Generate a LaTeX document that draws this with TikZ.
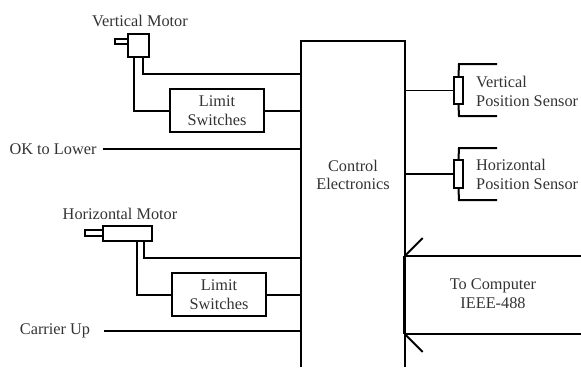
\documentclass[tikz,border=0pt]{standalone}
\usepackage{fontspec}
\setmainfont{Liberation Serif}
\begin{document}
\begin{tikzpicture}[x=1pt,y=-1pt,
  wire/.style={line width=2pt},
  thin wire/.style={line width=1.4pt},
  box/.style={draw,line width=2pt,rectangle,inner sep=0pt,align=center,font=\fontsize{16.3}{18.5}\selectfont,text=black!80},
  lbl/.style={inner sep=0pt,font=\fontsize{16.3}{18.5}\selectfont,text=black!80},
  bus/.style={line width=3pt}]
\useasboundingbox (0,0) rectangle (581,367);
% control electronics
\node[minimum width=103pt,minimum height=326pt,inner sep=0pt] (ctrl) at (353,204) {};
\draw[wire] (ctrl.south west) -- (ctrl.north west) -- (ctrl.north east) -- (ctrl.south east);
\node[lbl,align=center] (ctrltxt) at (353,175) {Control\\Electronics};
% vertical motor
\node[box,minimum width=21pt,minimum height=23pt] (vmotor) at (138.5,45.5) {};
\node[box,minimum width=13pt,minimum height=5pt,line width=1.5pt] (vshaft) at (121.5,41.5) {};
\node[lbl] (vmlbl) at (140,21) {Vertical Motor};
\node[box,minimum width=94pt,minimum height=43pt] (lim1) at (217,110.5) {Limit\\Switches};
\draw[wire] ([xshift=4.5pt]vmotor.south) |- (ctrl.west |- 0,74);
\draw[wire] ([xshift=-4.5pt]vmotor.south) |- (lim1.west);
\draw[wire] (lim1.east) -- (ctrl.west |- lim1.east);
% OK to lower
\node[lbl] (ok) at (53,149) {OK to Lower};
\draw[wire] ([xshift=6pt]ok.east) -- (ctrl.west |- ok.east);
% horizontal motor
\node[box,minimum width=49pt,minimum height=15pt] (hmotor) at (127.5,233.5) {};
\node[box,minimum width=18pt,minimum height=6pt,line width=1.5pt] (hshaft) at (94,233) {};
\node[lbl] (hmlbl) at (120,214) {Horizontal Motor};
\node[box,minimum width=94pt,minimum height=43pt] (lim2) at (219,294.5) {Limit\\Switches};
\draw[wire] ([xshift=16.5pt]hmotor.south) |- (ctrl.west |- 0,258);
\draw[wire] ([xshift=9.5pt]hmotor.south) |- (lim2.west);
\draw[wire] (lim2.east) -- (ctrl.west |- lim2.east);
% carrier up
\node[lbl] (cu) at (55,331) {Carrier Up};
\draw[wire] ([xshift=14pt]cu.east) -- (ctrl.west |- cu.east);
% vertical position sensor
\node[box,minimum width=9pt,minimum height=27pt] (vsens) at (458.5,90.5) {};
\draw[thin wire] (ctrl.east |- vsens.west) -- (vsens.west);
\draw[wire] (497,64) -- (459,64) -- (vsens.north);
\draw[wire] (497,116) -- (459,116) -- (vsens.south);
\node[lbl,anchor=west,align=left] (vstxt) at (476,91.5) {Vertical\\Position Sensor};
% horizontal position sensor
\node[box,minimum width=9pt,minimum height=28pt] (hsens) at (458.5,174) {};
\draw[thin wire] (ctrl.east |- hsens.west) -- (hsens.west);
\draw[wire] (497,148) -- (459,148) -- (hsens.north);
\draw[wire] (497,200) -- (459,200) -- (hsens.south);
\node[lbl,anchor=west,align=left] (hstxt) at (476,174.5) {Horizontal\\Position Sensor};
% computer bus
\coordinate (bt) at (ctrl.east |- 0,256);
\coordinate (bb) at (ctrl.east |- 0,334);
\coordinate (rt) at (581,256);
\coordinate (rb) at (581,334);
\draw[wire] (bt) -- (rt);
\draw[wire] (bb) -- (rb);
\draw[bus] (bt) -- (bb);
\draw[wire] (bt) -- ++(18,-18);
\draw[wire] (bb) -- ++(18,18);
\node[lbl,align=center] (comp) at (493,293.5) {To Computer\\IEEE-488};
\end{tikzpicture}
\end{document}
